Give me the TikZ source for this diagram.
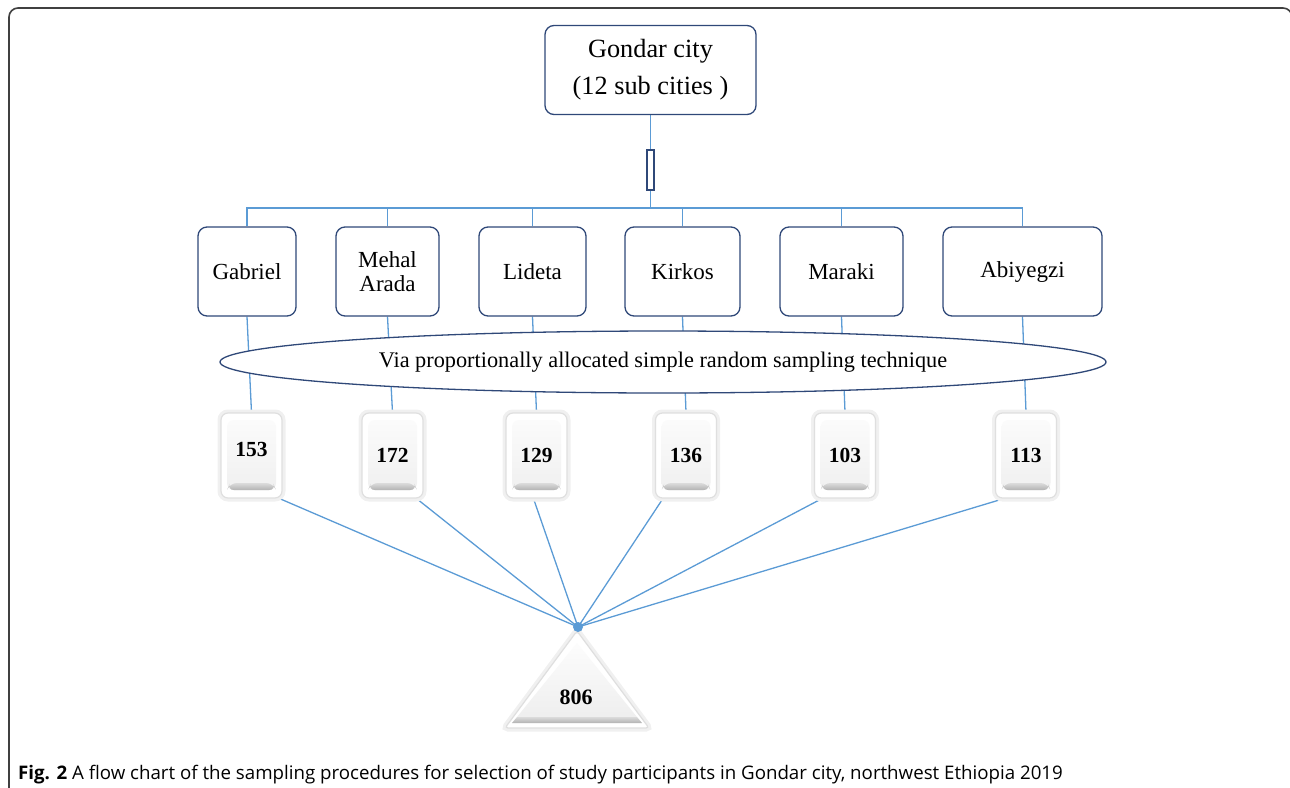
\documentclass[tikz,border=0pt]{standalone}
\usepackage{fontspec}
\setmainfont{Liberation Serif}
\newfontfamily\capfont{Open Sans}
\usetikzlibrary{shapes.geometric,backgrounds}
\definecolor{navy}{RGB}{47,72,120}
\definecolor{conncol}{RGB}{91,155,213}
\begin{document}
\begin{tikzpicture}[x=1pt,y=-1pt,
  box/.style={draw=navy, line width=1.3pt, rounded corners=9pt, fill=white, align=center,
    inner sep=0pt, minimum height=89pt, font=\fontsize{23}{24}\selectfont},
  conn/.style={draw=conncol, line width=1.3pt},
  key/.style={fill=white, draw=gray!25, line width=1.2pt, rounded corners=7pt,
    preaction={draw=gray!12, line width=7pt},
    minimum width=61pt, minimum height=85pt, inner sep=0pt,
    font=\bfseries\fontsize{21.5}{21.5}\selectfont,
    path picture={
      \shade[top color=gray!2, bottom color=gray!13]
        ([shift={(6pt,-7pt)}]path picture bounding box.north west) rectangle
        ([shift={(-6pt,8pt)}]path picture bounding box.south east);
      \shade[top color=gray!28, bottom color=gray!60]
        ([shift={(9pt,15pt)}]path picture bounding box.south west) --
        ([shift={(-9pt,15pt)}]path picture bounding box.south east) --
        ([shift={(-6pt,8pt)}]path picture bounding box.south east) --
        ([shift={(6pt,8pt)}]path picture bounding box.south west) -- cycle;
    }},
]
\useasboundingbox (0,0) rectangle (1290,787);

% frame
\draw[black!75, line width=1.6pt, rounded corners=9pt] (9,800) -- (9,8) -- (1292,8) -- (1292,800);

% top
\node[box, minimum width=211pt, font=\fontsize{26.3}{37}\selectfont] (city) at (650.5,70) {Gondar city\\(12 sub cities )};
\node[draw=navy, line width=1.2pt, fill=white, minimum width=7pt, minimum height=40pt, inner sep=0pt] (sep) at (650.5,170) {};
\coordinate (bus) at (650.5,208);

% sub-cities
\node[box, minimum width=98pt] (b1) at (247,271.5) {Gabriel};
\node[box, minimum width=103pt, font=\fontsize{23}{24}\selectfont] (b2) at (387.5,271.5) {Mehal\\Arada};
\node[box, minimum width=107pt] (b3) at (532.5,271.5) {Lideta};
\node[box, minimum width=115pt] (b4) at (682.5,271.5) {Kirkos};
\node[box, minimum width=123pt] (b5) at (841.5,271.5) {Maraki};
\node[box, minimum width=159pt] (b6) at (1022.5,271.5) {Abiyegzi};

% keys
\node[key] (k1) at (251.5,455.5) {\raisebox{12pt}{153}};
\node[key] (k2) at (392.5,455.5) {172};
\node[key] (k3) at (536.5,455.5) {129};
\node[key] (k4) at (686,455.5) {136};
\node[key] (k5) at (845,455.5) {103};
\node[key] (k6) at (1026,455.5) {113};

% ellipse
\node[ellipse, draw=navy, line width=1.3pt, fill=white, minimum width=886pt, minimum height=62pt,
  inner sep=0pt, font=\fontsize{22.3}{22.3}\selectfont] (ell) at (663,362) {Via proportionally allocated simple random sampling technique};

% triangle
\coordinate (apex) at (578,627);
\filldraw[fill=white, draw=gray!25, line width=1.2pt, preaction={draw=gray!12, line width=7pt}, rounded corners=3pt]
  (577,631) -- (649,728) -- (505,728) -- cycle;
\shade[top color=gray!2, bottom color=gray!13] (577,643) -- (637,717) -- (517,717) -- cycle;
\shade[top color=gray!28, bottom color=gray!60] (517,717) -- (637,717) -- (642,723) -- (512,723) -- cycle;
\node[font=\bfseries\fontsize{22}{22}\selectfont, inner sep=0pt] (total) at (576,697) {806};

\begin{scope}[on background layer]
  \draw[conn] (city.south) -- (sep.north);
  \draw[conn] (sep.south) -- (bus);
  \foreach \b in {b1,b2,b3,b4,b5,b6} { \draw[conn] (\b.north) |- (bus); }
  \draw[conn] (b1.south) -- (k1.north);
  \draw[conn] (b2.south) -- (k2.north);
  \draw[conn] (b3.south) -- (k3.north);
  \draw[conn] (b4.south) -- (k4.north);
  \draw[conn] (b5.south) -- (k5.north);
  \draw[conn] (b6.south) -- (k6.north);
  \draw[conn] ([xshift=-3pt]k1.south east) -- (apex);
  \draw[conn] ([xshift=-7pt]k2.south east) -- (apex);
  \draw[conn] ([xshift=-3pt]k3.south) -- (apex);
  \draw[conn] ([xshift=8pt]k4.south west) -- (apex);
  \draw[conn] ([xshift=8pt]k5.south west) -- (apex);
  \draw[conn] ([xshift=9pt]k6.south west) -- (apex);
\end{scope}
\fill[conncol] (apex) circle (5pt);

% caption
\node[anchor=base west, inner sep=0pt, font=\capfont\fontsize{18.7}{18.7}\selectfont] (cap) at (18,779)
  {\textbf{Fig. 2} A flow chart of the sampling procedures for selection of study participants in Gondar city, northwest Ethiopia 2019};
\end{tikzpicture}
\end{document}
